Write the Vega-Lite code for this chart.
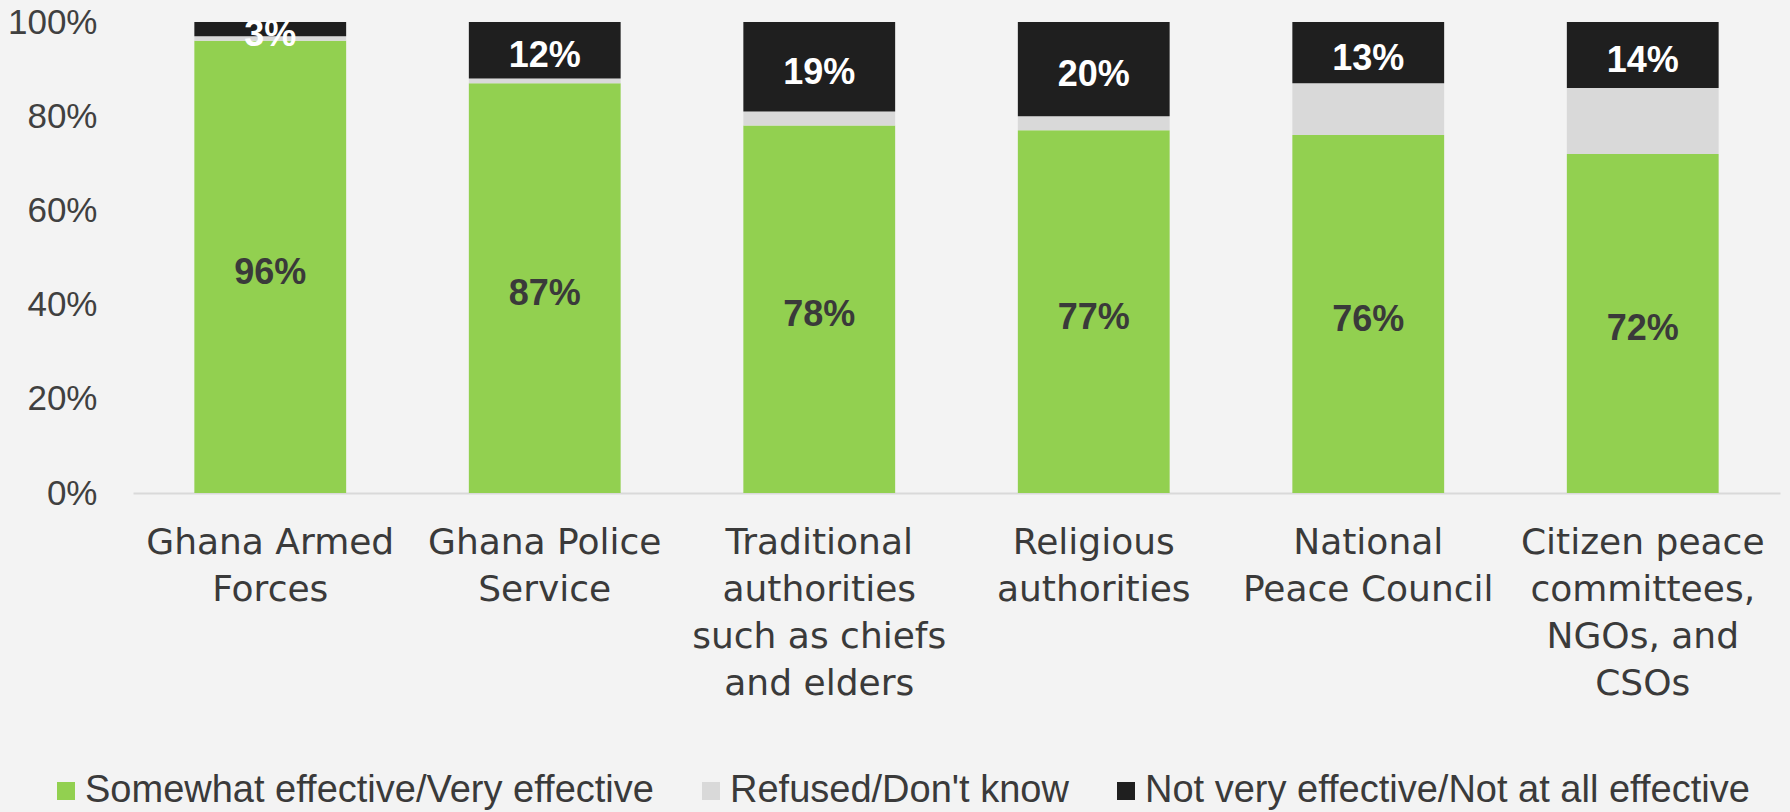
{
  "$schema": "https://vega.github.io/schema/vega-lite/v6.json",
  "width": 1647,
  "height": 471,
  "autosize": {"type": "none"},
  "padding": {"left": 133, "top": 22, "right": 10, "bottom": 319},
  "background": "#f3f3f3",
  "config": {"view": {"stroke": null}},
  "data": {
    "values": [
      {"inst": "Ghana Armed|Forces", "cat": "Somewhat effective/Very effective", "o": 1, "v": 0.96},
      {"inst": "Ghana Armed|Forces", "cat": "Refused/Don't know", "o": 2, "v": 0.01},
      {"inst": "Ghana Armed|Forces", "cat": "Not very effective/Not at all effective", "o": 3, "v": 0.03},
      {"inst": "Ghana Police|Service", "cat": "Somewhat effective/Very effective", "o": 1, "v": 0.87},
      {"inst": "Ghana Police|Service", "cat": "Refused/Don't know", "o": 2, "v": 0.01},
      {"inst": "Ghana Police|Service", "cat": "Not very effective/Not at all effective", "o": 3, "v": 0.12},
      {"inst": "Traditional|authorities|such as chiefs|and elders", "cat": "Somewhat effective/Very effective", "o": 1, "v": 0.78},
      {"inst": "Traditional|authorities|such as chiefs|and elders", "cat": "Refused/Don't know", "o": 2, "v": 0.03},
      {"inst": "Traditional|authorities|such as chiefs|and elders", "cat": "Not very effective/Not at all effective", "o": 3, "v": 0.19},
      {"inst": "Religious|authorities", "cat": "Somewhat effective/Very effective", "o": 1, "v": 0.77},
      {"inst": "Religious|authorities", "cat": "Refused/Don't know", "o": 2, "v": 0.03},
      {"inst": "Religious|authorities", "cat": "Not very effective/Not at all effective", "o": 3, "v": 0.20},
      {"inst": "National|Peace Council", "cat": "Somewhat effective/Very effective", "o": 1, "v": 0.76},
      {"inst": "National|Peace Council", "cat": "Refused/Don't know", "o": 2, "v": 0.11},
      {"inst": "National|Peace Council", "cat": "Not very effective/Not at all effective", "o": 3, "v": 0.13},
      {"inst": "Citizen peace|committees,|NGOs, and|CSOs", "cat": "Somewhat effective/Very effective", "o": 1, "v": 0.72},
      {"inst": "Citizen peace|committees,|NGOs, and|CSOs", "cat": "Refused/Don't know", "o": 2, "v": 0.14},
      {"inst": "Citizen peace|committees,|NGOs, and|CSOs", "cat": "Not very effective/Not at all effective", "o": 3, "v": 0.14}
    ]
  },
  "encoding": {
    "x": {
      "field": "inst",
      "type": "nominal",
      "sort": null,
      "scale": {"paddingInner": 0.447, "paddingOuter": 0.2235},
      "axis": {
        "title": null,
        "labelAngle": 0,
        "labelExpr": "split(datum.value, '|')",
        "labelFont": "DejaVu Sans",
        "labelFontSize": 36,
        "labelLineHeight": 47,
        "labelColor": "#3a3a3a",
        "labelPadding": 32,
        "labelBaseline": "top",
        "ticks": false,
        "domainColor": "#d9d9d9",
        "domainWidth": 2,
        "labelLimit": 400
      }
    },
    "y": {
      "field": "v",
      "type": "quantitative",
      "stack": "zero",
      "scale": {"domain": [0, 1]},
      "axis": {
        "title": null,
        "format": ".0%",
        "values": [0, 0.2, 0.4, 0.6, 0.8, 1],
        "labelFont": "Liberation Sans",
        "labelFontSize": 35,
        "labelColor": "#404040",
        "labelPadding": 36,
        "domain": false,
        "ticks": false,
        "grid": false
      }
    },
    "order": {"field": "o", "type": "quantitative"}
  },
  "layer": [
    {
      "mark": {"type": "bar"},
      "encoding": {
        "color": {
          "field": "cat",
          "type": "nominal",
          "scale": {
            "domain": ["Somewhat effective/Very effective", "Refused/Don't know", "Not very effective/Not at all effective"],
            "range": ["#92d050", "#d9d9d9", "#1f1f1f"]
          },
          "legend": {
            "title": null,
            "orient": "none",
            "direction": "horizontal",
            "legendX": -86,
            "legendY": 750,
            "symbolType": "square",
            "symbolSize": 324,
            "symbolStrokeWidth": 0,
            "labelFont": "Liberation Sans",
            "labelFontSize": 38,
            "labelColor": "#3a3a3a",
            "labelOffset": 0,
            "labelLimit": 800,
            "columnPadding": 38
          }
        }
      }
    },
    {
      "mark": {"type": "text", "font": "Liberation Sans", "fontWeight": "bold", "fontSize": 36, "baseline": "middle", "dy": 6},
      "encoding": {
        "y": {"field": "v", "type": "quantitative", "stack": "zero", "bandPosition": 0.5},
        "text": {"field": "v", "type": "quantitative", "format": ".0%"},
        "color": {
          "condition": {"test": "datum.o === 3", "value": "#ffffff"},
          "value": "#3a3a3a"
        },
        "opacity": {
          "condition": {"test": "datum.o === 2", "value": 0},
          "value": 1
        }
      }
    }
  ]
}
